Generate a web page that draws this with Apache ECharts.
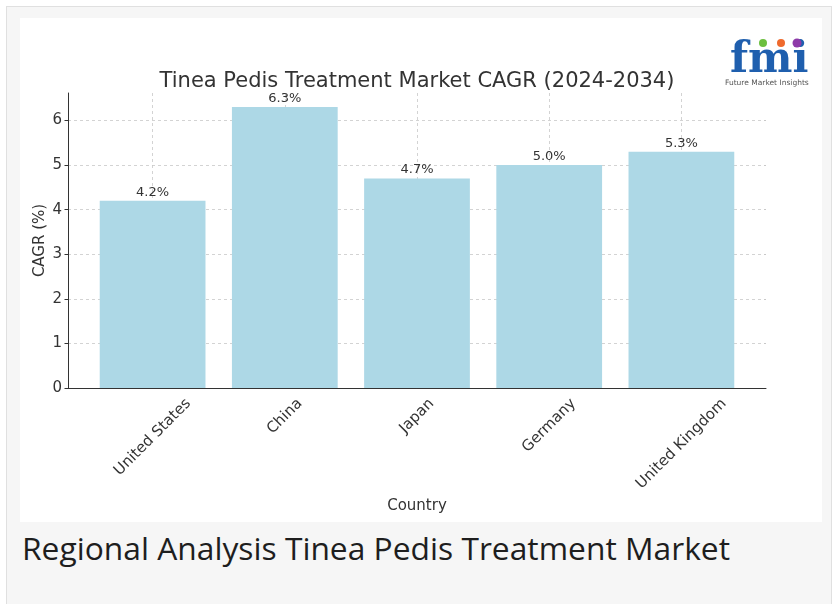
<!DOCTYPE html>
<html><head><meta charset="utf-8">
<script src="https://cdn.jsdelivr.net/npm/echarts@6/dist/echarts.min.js"></script>
<style>
html,body{margin:0;padding:0;background:#fff;width:838px;height:604px;overflow:hidden}
#panel{position:absolute;left:6px;top:6px;width:826px;height:620px;background:#f6f6f6;border:1px solid #e0e0e0;box-sizing:border-box}
#chart{position:absolute;left:20px;top:18px;width:802px;height:504px;background:#fff}
#caption{position:absolute;left:22px;top:528px;font-family:"Open Sans";font-size:31px;color:#1e1e1e;line-height:40px;white-space:nowrap;transform-origin:0 0}
</style></head><body>
<div id="panel"></div><div id="chart"></div><div id="caption">Regional Analysis Tinea Pedis Treatment Market</div>
<script>
const categories = ['United States', 'China', 'Japan', 'Germany', 'United Kingdom'];
const cagrValues = [4.2, 6.3, 4.7, 5.0, 5.3];
const yTickValues = [0, 1, 2, 3, 4, 5, 6];
const xTickValues = [0, 1, 2, 3, 4];

// caption width fit
const cap = document.getElementById('caption');
const cw = cap.getBoundingClientRect().width;
cap.style.transform = 'scaleX(' + (708 / cw) + ')';

const FONT = '"DejaVu Sans", sans-serif';
const LABEL_SIZE = 15;
const ctx = document.createElement('canvas').getContext('2d');
ctx.font = LABEL_SIZE + 'px "DejaVu Sans"';
const rich = {};
categories.forEach((c, i) => {
  const w = ctx.measureText(c).width;
  const p = (w + LABEL_SIZE) / 2;
  rich['c' + i] = { padding: [p, p, 0, 0], fontSize: LABEL_SIZE, fontFamily: FONT, color: '#333', lineHeight: LABEL_SIZE };
});

const chart = echarts.init(document.getElementById('chart'), null, { renderer: 'canvas' });
const gridW = 802 - 48 - 56;
const xMin = -0.64, xMax = 4.64;
const barW = 0.8 * gridW / (xMax - xMin);

chart.setOption({
  animation: false,
  backgroundColor: '#fff',
  textStyle: { fontFamily: FONT },
  title: {
    text: 'Tinea Pedis Treatment Market CAGR (2024-2034)',
    left: 392, textAlign: 'center', top: 48,
    textStyle: { fontFamily: FONT, fontSize: 21, fontWeight: 'normal', color: '#333', lineHeight: 22 }
  },
  grid: { left: 48, right: 56, top: 75, bottom: 134, containLabel: false },
  xAxis: {
    type: 'value', min: xMin, max: xMax,
    name: 'Country', nameLocation: 'middle', nameGap: 118, nameMoveOverlap: false,
    nameTextStyle: { fontFamily: FONT, fontSize: 15, color: '#333', verticalAlign: 'middle', align: 'center' },
    axisLine: { show: true, onZero: false, lineStyle: { color: '#333', width: 1 } },
    axisTick: { show: true, inside: true, length: 4, customValues: xTickValues, lineStyle: { color: '#333' } },
    axisLabel: {
      customValues: xTickValues, rotate: 45, margin: 8, align: 'center', verticalAlign: 'middle',
      formatter: v => '{c' + Math.round(v) + '|' + categories[Math.round(v)] + '}',
      rich: rich
    },
    splitLine: { show: true, lineStyle: { color: '#c8c8c8', type: [3, 3], width: 0.8 } }
  },
  yAxis: {
    type: 'value', min: 0, max: 6.615,
    name: 'CAGR (%)', nameLocation: 'middle', nameGap: 28, nameRotate: 90, nameMoveOverlap: false,
    nameTextStyle: { fontFamily: FONT, fontSize: 15, color: '#333', verticalAlign: 'middle', align: 'center' },
    axisLine: { show: true, onZero: false, lineStyle: { color: '#333', width: 1 } },
    axisTick: { show: true, length: 3.5, customValues: yTickValues, lineStyle: { color: '#333' } },
    axisLabel: { customValues: yTickValues, margin: 6, fontSize: 15, color: '#333', fontFamily: FONT },
    splitLine: { show: true, lineStyle: { color: '#c8c8c8', type: [3, 3], width: 0.8 } }
  },
  series: [{
    type: 'bar',
    data: cagrValues.map((v, i) => [i, v]),
    barWidth: barW,
    itemStyle: { color: '#add8e6' },
    label: {
      show: true, position: 'top', distance: 2, fontSize: 13, color: '#333', fontFamily: FONT,
      formatter: p => p.value[1].toFixed(1) + '%'
    }
  }],
  graphic: [
    { type: 'text', left: 710, top: 22, style: { text: 'fmi', font: 'bold 42px "DejaVu Serif"', fill: '#1f5fae' } },
    { type: 'circle', shape: { cx: 743, cy: 25, r: 4 }, style: { fill: '#6cbf3f' } },
    { type: 'circle', shape: { cx: 761, cy: 25, r: 4 }, style: { fill: '#ef6a2d' } },
    { type: 'circle', shape: { cx: 777, cy: 25, r: 4.5 }, style: { fill: '#8e3aa8' } },
    { type: 'text', left: 705, top: 61, style: { text: 'Future Market Insights', font: '7.5px "DejaVu Sans"', fill: '#555' } }
  ]
});
</script>
</body></html>
